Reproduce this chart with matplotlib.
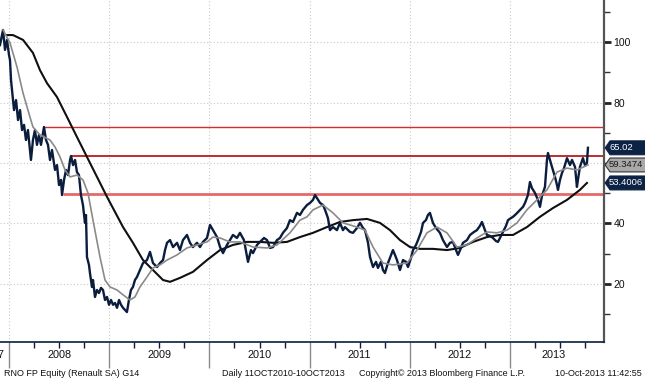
# coding: utf-8

import numpy as np
import matplotlib
matplotlib.use("Agg")
import matplotlib.pyplot as plt
from matplotlib.patches import Polygon
from matplotlib.transforms import blended_transform_factory

plt.rcParams['font.family'] = ['Liberation Sans', 'DejaVu Sans']

# Renault close, decimal years
price_t = [2007.910, 2007.930, 2007.940, 2007.960, 2007.980, 2008.000, 2008.010, 2008.020, 2008.030, 2008.050,
           2008.070, 2008.090, 2008.110, 2008.130, 2008.150, 2008.169, 2008.189, 2008.209, 2008.219, 2008.239,
           2008.259, 2008.279, 2008.299, 2008.319, 2008.349, 2008.369, 2008.389, 2008.409, 2008.429, 2008.459,
           2008.479, 2008.499, 2008.519, 2008.529, 2008.549, 2008.569, 2008.589, 2008.609, 2008.619, 2008.639,
           2008.659, 2008.678, 2008.698, 2008.718, 2008.738, 2008.758, 2008.768, 2008.778, 2008.798, 2008.808,
           2008.828, 2008.838, 2008.858, 2008.878, 2008.898, 2008.918, 2008.938, 2008.958, 2008.978, 2008.998,
           2009.018, 2009.038, 2009.058, 2009.078, 2009.098, 2009.118, 2009.138, 2009.158, 2009.177, 2009.197,
           2009.217, 2009.237, 2009.257, 2009.277, 2009.307, 2009.337, 2009.377, 2009.407, 2009.437, 2009.477,
           2009.507, 2009.537, 2009.557, 2009.577, 2009.607, 2009.637, 2009.677, 2009.706, 2009.736, 2009.776,
           2009.806, 2009.836, 2009.876, 2009.906, 2009.936, 2009.976, 2010.006, 2010.036, 2010.076, 2010.106,
           2010.136, 2010.175, 2010.205, 2010.235, 2010.275, 2010.305, 2010.345, 2010.385, 2010.415, 2010.435,
           2010.475, 2010.505, 2010.545, 2010.575, 2010.605, 2010.635, 2010.674, 2010.704, 2010.734, 2010.774,
           2010.804, 2010.834, 2010.874, 2010.904, 2010.934, 2010.974, 2011.004, 2011.034, 2011.054, 2011.084,
           2011.104, 2011.134, 2011.154, 2011.183, 2011.203, 2011.233, 2011.273, 2011.303, 2011.333, 2011.353,
           2011.403, 2011.433, 2011.473, 2011.503, 2011.533, 2011.553, 2011.583, 2011.603, 2011.633, 2011.663,
           2011.682, 2011.712, 2011.732, 2011.752, 2011.782, 2011.802, 2011.832, 2011.852, 2011.872, 2011.902,
           2011.932, 2011.962, 2011.982, 2012.012, 2012.032, 2012.062, 2012.082, 2012.112, 2012.132, 2012.161,
           2012.181, 2012.201, 2012.231, 2012.261, 2012.301, 2012.331, 2012.371, 2012.401, 2012.431, 2012.461,
           2012.481, 2012.511, 2012.531, 2012.571, 2012.601, 2012.641, 2012.670, 2012.700, 2012.720, 2012.750,
           2012.770, 2012.800, 2012.830, 2012.860, 2012.880, 2012.910, 2012.930, 2012.960, 2012.980, 2013.010,
           2013.030, 2013.060, 2013.100, 2013.130, 2013.150, 2013.179, 2013.199, 2013.219, 2013.249, 2013.279,
           2013.299, 2013.319, 2013.349, 2013.369, 2013.379, 2013.399, 2013.419, 2013.449, 2013.469, 2013.479,
           2013.499, 2013.519, 2013.539, 2013.569, 2013.599, 2013.619, 2013.649, 2013.668, 2013.678, 2013.698,
           2013.728, 2013.748, 2013.768, 2013.778]
price_v = [99.0, 102.3, 104.0, 97.4, 100.7, 95.7, 94.0, 87.4, 84.1, 77.5,
           80.8, 74.2, 77.5, 70.9, 72.6, 67.6, 70.9, 64.3, 61.0, 67.6,
           70.9, 66.0, 69.3, 66.0, 71.9, 67.6, 66.0, 61.0, 64.3, 57.7,
           59.3, 52.7, 54.4, 49.4, 54.4, 57.7, 56.0, 61.0, 62.3, 59.3,
           61.0, 57.0, 56.0, 49.4, 46.1, 40.2, 42.8, 28.9, 26.3, 23.6,
           19.0, 21.3, 15.7, 18.0, 17.0, 18.7, 18.0, 14.7, 15.7, 13.1,
           14.7, 13.1, 13.7, 12.1, 14.7, 13.1, 12.1, 11.4, 10.7, 14.7,
           18.0, 19.0, 21.3, 22.3, 24.6, 26.9, 27.9, 30.6, 26.9, 25.6,
           26.9, 27.9, 31.2, 33.6, 34.5, 32.2, 33.6, 31.2, 34.5, 36.2,
           33.6, 32.2, 33.6, 32.2, 33.9, 35.2, 39.5, 37.8, 35.5, 32.2,
           30.2, 32.9, 34.5, 36.2, 35.2, 36.9, 34.5, 27.3, 31.2, 30.2,
           32.9, 33.9, 35.2, 34.5, 31.9, 32.2, 34.5, 35.2, 36.9, 38.5,
           41.1, 40.5, 43.5, 42.8, 44.5, 46.1, 46.8, 47.8, 49.4, 47.8,
           46.8, 46.1, 44.5, 41.8, 37.8, 38.8, 37.8, 40.2, 37.8, 38.8,
           37.2, 36.9, 38.5, 40.2, 38.5, 37.8, 33.6, 28.9, 25.6, 27.3,
           25.3, 27.3, 24.6, 23.6, 26.9, 28.6, 31.2, 29.6, 27.9, 24.6,
           27.9, 27.3, 25.6, 28.6, 31.2, 32.9, 34.5, 37.2, 40.2, 41.1,
           42.8, 43.5, 40.2, 38.5, 36.9, 34.5, 32.2, 33.6, 33.9, 31.2,
           29.6, 31.9, 33.6, 34.5, 36.2, 37.2, 37.8, 39.2, 40.5, 37.8,
           36.2, 35.9, 35.2, 34.2, 33.9, 35.9, 37.2, 39.2, 41.1, 41.8,
           42.2, 43.1, 44.5, 45.5, 46.8, 49.4, 53.7, 51.7, 50.1, 47.8,
           45.5, 49.1, 52.1, 61.0, 63.3, 61.0, 58.7, 55.4, 52.7, 51.1,
           54.4, 56.7, 58.3, 61.6, 59.3, 61.0, 58.7, 52.1, 54.4, 58.7,
           61.6, 59.3, 60.0, 65.02]

# short moving average (gray)
ma_short_t = [2007.940, 2008.010, 2008.080, 2008.140, 2008.209, 2008.239, 2008.309, 2008.409, 2008.459, 2008.509,
              2008.559, 2008.609, 2008.678, 2008.738, 2008.788, 2008.838, 2008.908, 2008.958, 2009.008, 2009.078,
              2009.138, 2009.207, 2009.257, 2009.307, 2009.377, 2009.437, 2009.507, 2009.577, 2009.677, 2009.776,
              2009.876, 2009.976, 2010.036, 2010.106, 2010.205, 2010.305, 2010.435, 2010.575, 2010.674, 2010.804,
              2010.904, 2010.974, 2011.034, 2011.134, 2011.233, 2011.333, 2011.473, 2011.553, 2011.633, 2011.732,
              2011.832, 2011.972, 2012.072, 2012.171, 2012.271, 2012.371, 2012.471, 2012.571, 2012.670, 2012.770,
              2012.870, 2012.970, 2013.070, 2013.169, 2013.269, 2013.369, 2013.469, 2013.569, 2013.668, 2013.778]
ma_short_v = [104.0, 99.7, 91.7, 83.1, 75.2, 71.9, 69.3, 67.6, 65.3, 62.0,
              57.7, 55.4, 56.0, 54.4, 50.1, 41.1, 28.9, 21.3, 19.0, 18.0,
              16.4, 14.7, 15.7, 19.0, 22.3, 25.3, 26.3, 27.9, 29.6, 31.9,
              32.9, 33.9, 35.5, 35.2, 33.9, 33.9, 32.2, 31.9, 32.9, 36.9,
              41.1, 42.2, 44.5, 46.1, 43.5, 40.2, 38.8, 37.8, 32.2, 26.9,
              26.3, 26.9, 31.2, 36.9, 38.8, 36.9, 32.2, 32.9, 35.2, 37.2,
              36.9, 37.8, 40.2, 44.5, 47.8, 51.1, 57.0, 58.3, 57.7, 59.3474]

# long moving average (black)
ma_long_t = [2007.980, 2008.040, 2008.140, 2008.239, 2008.309, 2008.379, 2008.479, 2008.579, 2008.678, 2008.778,
             2008.878, 2008.978, 2009.138, 2009.237, 2009.337, 2009.437, 2009.537, 2009.607, 2009.706, 2009.836,
             2009.976, 2010.106, 2010.235, 2010.375, 2010.505, 2010.635, 2010.774, 2010.904, 2011.034, 2011.173,
             2011.303, 2011.433, 2011.573, 2011.702, 2011.802, 2011.902, 2012.002, 2012.102, 2012.231, 2012.371,
             2012.501, 2012.631, 2012.770, 2012.900, 2013.030, 2013.169, 2013.299, 2013.429, 2013.569, 2013.698,
             2013.768]
ma_long_v = [102.3, 102.3, 100.7, 96.4, 90.7, 86.4, 81.8, 75.2, 68.6, 62.0,
             55.4, 48.8, 38.8, 33.6, 27.9, 24.6, 21.3, 20.7, 22.0, 24.0,
             27.9, 31.2, 32.9, 33.9, 33.9, 33.6, 33.9, 35.5, 36.9, 38.8,
             40.5, 41.1, 41.5, 40.2, 37.8, 34.5, 32.2, 31.6, 31.6, 31.2,
             31.9, 33.9, 35.5, 36.2, 36.2, 38.8, 42.2, 45.1, 47.8, 51.1,
             53.4006]

# horizontal resistance / support lines
level_start = [2008.349, 2008.619, 2008.539]
level_value = [71.9, 62.2, 49.9]
level_color = ['#d82c2c', '#b81c1c', '#e46a6a']
level_width = [1.0, 1.3, 2.0]

years = [2008, 2009, 2010, 2011, 2012, 2013]
tags = [('65.02', 65.02, '#0c2346', 'white'),
        ('59.3474', 59.3474, '#a9a9a9', '#1a1a1a'),
        ('53.4006', 53.4006, '#0c2346', 'white')]

fig = plt.figure(figsize=(6.45, 3.80), dpi=100)
ax = fig.add_axes([0.0, 0.1, 0.9364, 0.9])

x_lo, x_hi = 2007.91, 2013.938
ax.set_xlim(x_lo, x_hi)
ax.set_ylim(0.8, 113.9)

# grid
for yr in years:
    ax.axvline(yr, color='#c8c8c8', lw=0.8, ls=(0, (1, 2)), zorder=0)
for gv in [20, 40, 60, 80, 100]:
    ax.axhline(gv, color='#c8c8c8', lw=0.8, ls=(0, (1, 2)), zorder=0)

# levels
for s, v, c, w in zip(level_start, level_value, level_color, level_width):
    ax.plot([s, x_hi], [v, v], color=c, lw=w, zorder=2, solid_capstyle='butt')

# series
ax.plot(ma_long_t, ma_long_v, color='#101010', lw=1.5, zorder=3)
ax.plot(price_t, price_v, color='#0b1d3d', lw=1.7, zorder=4)
ax.plot(ma_short_t, ma_short_v, color='#8a8a8a', lw=1.2, zorder=6)

# spines
for side in ['top', 'left']:
    ax.spines[side].set_visible(False)
ax.spines['bottom'].set_color('#0b1d3d')
ax.spines['bottom'].set_linewidth(1.2)
ax.spines['right'].set_color('#555555')
ax.spines['right'].set_linewidth(1.6)

# y axis on the right
ax.yaxis.tick_right()
ax.set_yticks([20, 40, 80, 100])
ax.set_yticks([10, 30, 50, 60, 70, 90, 110], minor=True)
ax.tick_params(axis='y', which='major', length=5, width=2, color='#222222', labelsize=7.5, pad=2, labelcolor='#111111')
ax.tick_params(axis='y', which='minor', length=4, width=1, color='#333333')

# x axis: long gray dividers at years, short quarter ticks
ax.set_xticks(years)
ax.set_xticklabels([])
ax.set_xticks([y + q for y in [2007] + years for q in (0.25, 0.5, 0.75) if x_lo < y + q < x_hi], minor=True)
ax.tick_params(axis='x', which='major', length=19, width=1, color='#8a8a8a')
ax.tick_params(axis='x', which='minor', length=4, width=1, color='#0b1d3d')

# year labels
ax.text(2007.95, -3.6, '2007', ha='right', va='center', fontsize=7.8, color='#111111', clip_on=False)
for yr in years:
    ax.text(min(yr + 0.5, (yr + x_hi) / 2 - 0.03), -3.6, str(yr), ha='center', va='center',
            fontsize=7.8, color='#111111', clip_on=False)

# value tags on the right
btr = blended_transform_factory(ax.transAxes, ax.transData)
for txt, val, face, tcol in tags:
    h = 2.3
    pts = [(1.002, val), (1.010, val + h), (1.075, val + h), (1.075, val - h), (1.010, val - h)]
    edge = '#333333' if face == '#a9a9a9' else face
    ax.add_patch(Polygon(pts, closed=True, transform=btr, facecolor=face, edgecolor=edge,
                         lw=0.8, clip_on=False, zorder=10))
    ax.text(1.0085, val, txt, transform=btr, ha='left', va='center', fontsize=6.8,
            color=tcol, clip_on=False, zorder=11)

# footer
fy = 1 - 373 / 380
fig.text(4 / 645, fy, 'RNO FP Equity (Renault SA) G14', ha='left', va='center', fontsize=6.5, color='#111111')
fig.text(222 / 645, fy, 'Daily 11OCT2010-10OCT2013', ha='left', va='center', fontsize=6.5, color='#111111')
fig.text(359 / 645, fy, 'Copyright\u00a9 2013 Bloomberg Finance L.P.', ha='left', va='center', fontsize=6.5, color='#111111')
fig.text(642 / 645, fy, '10-Oct-2013 11:42:55', ha='right', va='center', fontsize=6.5, color='#111111')

fig.savefig('out.png', dpi=100)
